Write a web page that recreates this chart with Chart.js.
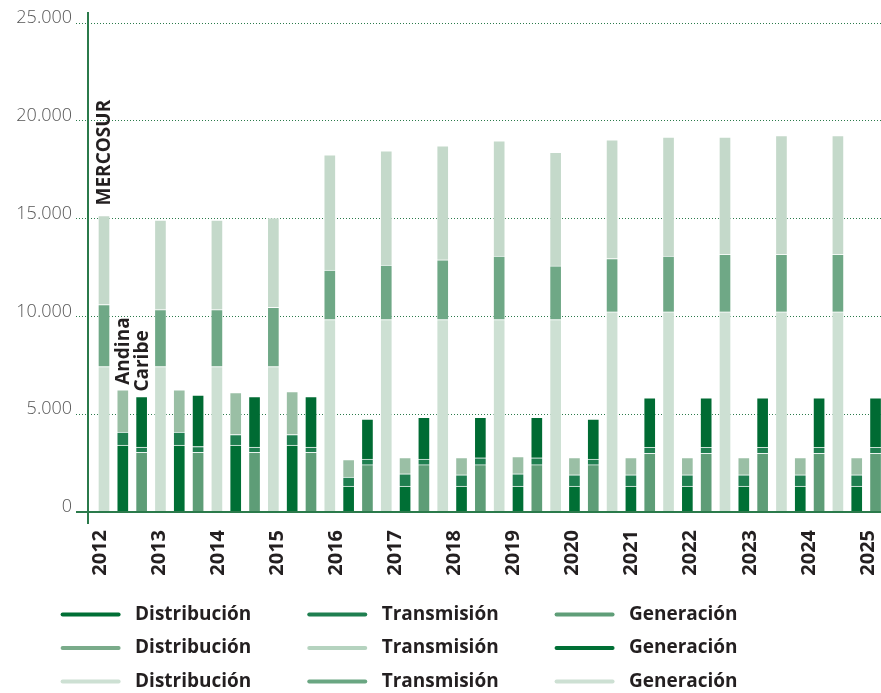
<!DOCTYPE html>
<html>
<head>
<meta charset="utf-8">
<script src="https://cdn.jsdelivr.net/npm/chart.js@4.4.1/dist/chart.umd.min.js"></script>
<style>
  html, body { margin: 0; padding: 0; background: #fff; overflow: hidden; }
  #wrap { width: 881px; height: 701px; }
</style>
</head>
<body>
<div id="wrap"><canvas id="chart"></canvas></div>
<script>
"use strict";

const years = ["2012", "2013", "2014", "2015", "2016", "2017", "2018", "2019", "2020", "2021", "2022", "2023", "2024", "2025"];
const segments = ["Distribución", "Transmisión", "Generación"];
const yTicks = [0, 5000, 10000, 15000, 20000, 25000];

// MERCOSUR (first bar of each year)
const mercosurDist  = [7440, 7440, 7440, 7440, 9840, 9840, 9840, 9840, 9840, 10240, 10240, 10240, 10240, 10240];
const mercosurTrans = [3170, 2910, 2910, 3030, 2530, 2790, 3050, 3240, 2740, 2720, 2840, 2930, 2930, 2930];
const mercosurGen   = [4550, 4580, 4580, 4570, 5890, 5840, 5830, 5900, 5810, 6070, 6090, 6000, 6070, 6070];

// Andina (second bar)
const andinaDist  = [3420, 3420, 3420, 3420, 1330, 1330, 1330, 1330, 1330, 1330, 1330, 1330, 1330, 1330];
const andinaTrans = [670, 670, 540, 540, 460, 620, 570, 620, 570, 570, 570, 570, 570, 570];
const andinaGen   = [2160, 2160, 2140, 2200, 890, 830, 880, 880, 880, 880, 880, 880, 880, 880];

// Caribe (third bar)
const caribeDist  = [3050, 3050, 3050, 3050, 2420, 2420, 2420, 2420, 2420, 3000, 3000, 3000, 3000, 3000];
const caribeTrans = [270, 300, 270, 270, 280, 280, 350, 350, 280, 300, 300, 300, 300, 300];
const caribeGen   = [2580, 2630, 2580, 2580, 2050, 2140, 2070, 2070, 2050, 2540, 2540, 2540, 2540, 2540];

const barColors = {
  Andina:   ["#006f35", "#1f7f50", "#9abfa5"],
  Caribe:   ["#5e9d77", "#1f7f50", "#006b33"],
  MERCOSUR: ["#cde0d3", "#6fa886", "#c4d9ca"],
};
// the printed legend uses its own colours
const legendColors = [
  "#006f35", "#1f7f50", "#5f9e78",
  "#7aab8a", "#b5d3bf", "#006f35",
  "#cde0d3", "#6aa682", "#cde0d3",
];

const groups = [
  { name: "Andina",   slot: 1, series: [andinaDist, andinaTrans, andinaGen] },
  { name: "Caribe",   slot: 2, series: [caribeDist, caribeTrans, caribeGen] },
  { name: "MERCOSUR", slot: 0, series: [mercosurDist, mercosurTrans, mercosurGen] },
];

const FONT = "'Open Sans', 'DejaVu Sans', sans-serif";
const GREEN = "#2b7a4b";
const INK = "#231f20";

function toPoints(values, slot) {
  return values.map((v, i) => ({ x: i * 3 + slot, y: v }));
}

const datasets = [];
groups.forEach((g) => {
  g.series.forEach((values, s) => {
    datasets.push({
      label: segments[s],
      group: g.name,
      data: toPoints(values, g.slot),
      backgroundColor: barColors[g.name][s],
      borderColor: "rgba(255,255,255,0.45)",
      borderWidth: 1,
      barThickness: 12,
    });
  });
});

// pad legend texts so the three columns sit where the print has them
const measureCtx = document.createElement("canvas").getContext("2d");
measureCtx.font = "bold 19px " + FONT;
const columnText = { "Distribución": 163, "Transmisión": 164, "Generación": 196.5 };
function padLabel(text) {
  const target = columnText[text];
  let t = " " + text;
  while (measureCtx.measureText(t + " ").width <= target) t += " ";
  while (measureCtx.measureText(t + "\u200A").width <= target) t += "\u200A";
  return t;
}

const groupNames = {
  id: "groupNames",
  afterDatasetsDraw(chart) {
    const ctx = chart.ctx;
    ctx.save();
    ctx.font = "bold 19px " + FONT;
    ctx.fillStyle = INK;
    ctx.textAlign = "left";
    ctx.textBaseline = "middle";
    chart.data.datasets.forEach((ds, i) => {
      if (ds.label !== "Generación") return;
      const bar = chart.getDatasetMeta(i).data[0];
      const gap = ds.group === "MERCOSUR" ? 10 : 5;
      ctx.save();
      ctx.translate(bar.x + 1, bar.y - gap);
      ctx.rotate(-Math.PI / 2);
      ctx.fillText(ds.group, 0, 0);
      ctx.restore();
    });
    ctx.restore();
  },
};

const axisLines = {
  id: "axisLines",
  afterDatasetsDraw(chart) {
    const { ctx, chartArea } = chart;
    ctx.save();
    ctx.strokeStyle = GREEN;
    ctx.lineWidth = 2;
    ctx.beginPath();
    ctx.moveTo(chartArea.left - 12, chartArea.bottom);
    ctx.lineTo(chartArea.right, chartArea.bottom);
    ctx.moveTo(chartArea.left, chartArea.top - 11);
    ctx.lineTo(chartArea.left, chartArea.bottom + 12);
    ctx.stroke();
    ctx.restore();
  },
};

function noSidePadding(axis) {
  axis.paddingLeft = 0;
  axis.paddingRight = 0;
}

new Chart(document.getElementById("chart"), {
  type: "bar",
  data: { datasets },
  plugins: [groupNames, axisLines],
  options: {
    responsive: true,
    maintainAspectRatio: false,
    animation: false,
    layout: { padding: { left: 0, top: 23, right: 0, bottom: 0 } },
    scales: {
      x: {
        type: "linear",
        display: false,
        stacked: true,
        offset: false,
        grid: { offset: false },
        min: -0.85,
        max: 41.29,
        afterFit: noSidePadding,
      },
      years: {
        type: "linear",
        position: "bottom",
        offset: false,
        min: -0.203,
        max: 13.22,
        grid: { display: false, drawTicks: false, offset: false },
        border: { display: false },
        afterBuildTicks: (axis) => { axis.ticks = years.map((y, i) => ({ value: i })); },
        afterFit: (axis) => { axis.height = 78.5; noSidePadding(axis); },
        ticks: {
          autoSkip: false,
          minRotation: 90,
          maxRotation: 90,
          padding: 18,
          color: INK,
          font: { family: FONT, size: 20, weight: "bold" },
          callback: (v) => years[v],
        },
      },
      y: {
        stacked: true,
        min: 0,
        max: 25000,
        afterBuildTicks: (axis) => { axis.ticks = yTicks.map((v) => ({ value: v })); },
        afterFit: (axis) => { axis.width = 88; axis.paddingTop = 0; axis.paddingBottom = 0; },
        border: { display: false, dash: [1, 2] },
        grid: {
          color: GREEN,
          lineWidth: 1,
          drawTicks: true,
          tickLength: 12,
          tickColor: GREEN,
          tickBorderDash: [1, 2],
        },
        ticks: {
          padding: 4,
          labelOffset: -5,
          color: "#555555",
          font: { family: FONT, size: 18, weight: "300" },
          callback: (v) => String(v).replace(/\B(?=(\d{3})+(?!\d))/g, "."),
        },
      },
    },
    plugins: {
      tooltip: { enabled: false },
      legend: {
        position: "bottom",
        align: "center",
        labels: {
          boxWidth: 60,
          boxHeight: 4,
          useBorderRadius: true,
          borderRadius: 2,
          padding: 14.5,
          color: INK,
          font: { family: FONT, size: 19, weight: "bold" },
          generateLabels: (chart) => chart.data.datasets.map((ds, i) => ({
            text: padLabel(ds.label),
            fillStyle: legendColors[i],
            strokeStyle: legendColors[i],
            lineWidth: 0,
            borderRadius: 2,
            fontColor: INK,
            hidden: false,
            datasetIndex: i,
          })),
        },
      },
    },
  },
});
</script>
</body>
</html>
